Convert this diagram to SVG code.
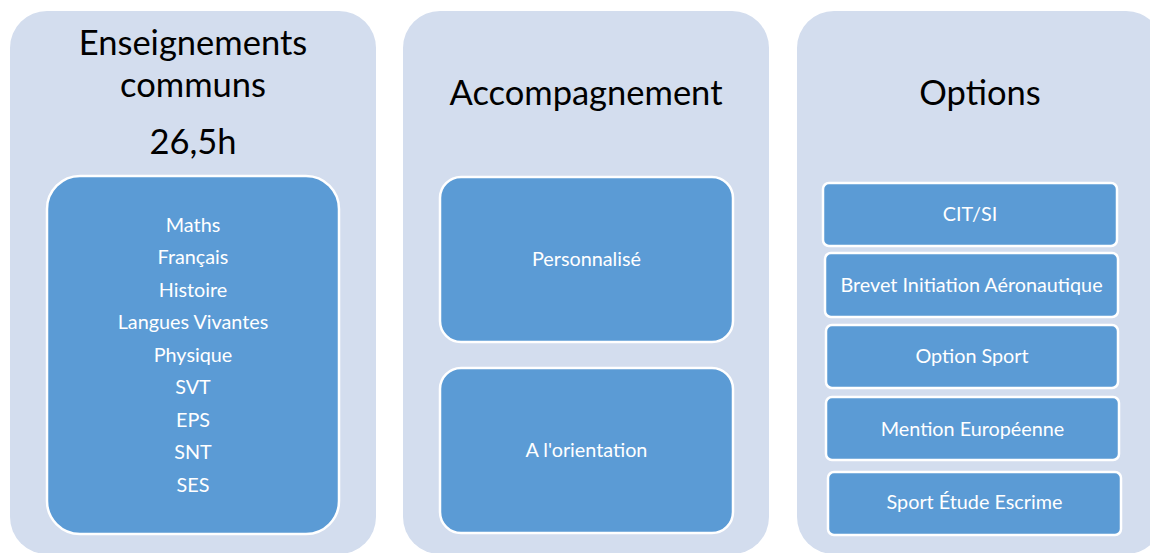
<svg xmlns="http://www.w3.org/2000/svg" width="1150" height="553" viewBox="0 0 1150 553">
<style>
.panel{fill:#D3DDEE;}
.box{fill:#5B9BD5;stroke:#FFFFFF;stroke-width:2.5;}
.title{font-family:Lato,"Open Sans","Liberation Sans",sans-serif;font-size:34.5px;fill:#000000;text-anchor:middle;}
.item{font-family:Lato,"Open Sans","Liberation Sans",sans-serif;font-size:19.8px;fill:#FFFFFF;text-anchor:middle;}
</style>
<rect width="1150" height="553" fill="#FFFFFF"/>
<g id="panel-communs">
<rect class="panel" x="10" y="11" width="366" height="543" rx="37"/>
<text class="title" x="193" y="55">Enseignements</text>
<text class="title" x="193" y="97">communs</text>
<text class="title" x="193" y="154">26,5h</text>
</g>
<g id="box-matieres">
<rect class="box" x="47" y="176" width="292" height="358" rx="33"/>
<text class="item" x="193" y="231.7">Maths</text>
<text class="item" x="193" y="264.2">Français</text>
<text class="item" x="193" y="296.7">Histoire</text>
<text class="item" x="193" y="329.2">Langues Vivantes</text>
<text class="item" x="193" y="361.7">Physique</text>
<text class="item" x="193" y="394.2">SVT</text>
<text class="item" x="193" y="426.7">EPS</text>
<text class="item" x="193" y="459.2">SNT</text>
<text class="item" x="193" y="491.7">SES</text>
</g>
<g id="panel-accompagnement">
<rect class="panel" x="403" y="11" width="366" height="543" rx="37"/>
<text class="title" x="586" y="105">Accompagnement</text>
</g>
<g id="box-personnalise">
<rect class="box" x="440" y="177" width="293" height="165" rx="21"/>
<text class="item" x="586.5" y="266">Personnalisé</text>
</g>
<g id="box-orientation">
<rect class="box" x="440" y="368" width="293" height="165" rx="21"/>
<text class="item" x="586.5" y="457">A l'orientation</text>
</g>
<g id="panel-options">
<rect class="panel" x="797" y="11" width="366" height="543" rx="37"/>
<text class="title" x="980" y="105">Options</text>
</g>
<g id="box-citsi">
<rect class="box" x="823" y="183" width="294" height="63" rx="6"/>
<text class="item" x="970" y="221">CIT/SI</text>
</g>
<g id="box-brevet">
<rect class="box" x="825" y="253" width="293" height="64" rx="6"/>
<text class="item" x="971.5" y="292">Brevet Initiation Aéronautique</text>
</g>
<g id="box-sport">
<rect class="box" x="826" y="325" width="292" height="63" rx="6"/>
<text class="item" x="972" y="363">Option Sport</text>
</g>
<g id="box-mention">
<rect class="box" x="826" y="397" width="293" height="63" rx="6"/>
<text class="item" x="972.5" y="436">Mention Européenne</text>
</g>
<g id="box-escrime">
<rect class="box" x="828" y="472" width="293" height="63" rx="6"/>
<text class="item" x="974.5" y="509">Sport Étude Escrime</text>
</g>
<g id="connectors"></g>
</svg>
